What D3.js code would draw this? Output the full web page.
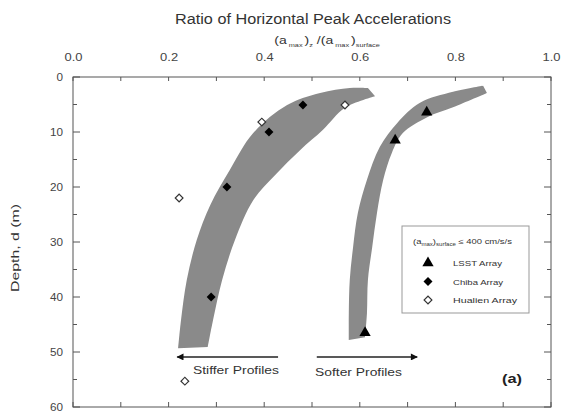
<!DOCTYPE html>
<html><head><meta charset="utf-8">
<script src="https://cdn.jsdelivr.net/npm/d3@7"></script>
<style>body{margin:0;background:#fff}text{font-family:"Liberation Sans",Arial,sans-serif}</style>
</head><body>
<script>
// ---- data ----
const xTickValues = [0, 0.2, 0.4, 0.6, 0.8, 1.0];
const xTickLabels = ["0.0", "0.2", "0.4", "0.6", "0.8", "1.0"];
const yTickValues = [0, 10, 20, 30, 40, 50, 60];
const lsst = [[0.740, 6.4], [0.674, 11.5], [0.611, 46.5]];
const chiba = [[0.481, 5.1], [0.410, 10.0], [0.322, 20.0], [0.289, 40.0]];
const hualien = [[0.569, 5.1], [0.395, 8.2], [0.222, 22.0], [0.234, 55.3]];
const stiffOuter = [[0.220,49.3],[0.226,44.2],[0.238,36.9],[0.259,29.6],[0.287,23.3],[0.328,16.9],[0.377,10.2],[0.448,5.1],[0.517,2.9],[0.579,2.0],[0.617,2.0]];
const stiffInner = [[0.632,3.5],[0.569,5.6],[0.523,9.6],[0.475,13.3],[0.423,17.8],[0.377,22.4],[0.339,29.6],[0.312,36.9],[0.293,44.2],[0.282,49.1]];
const softOuter = [[0.577,47.8],[0.577,42.9],[0.579,36.9],[0.586,30.9],[0.596,24.7],[0.615,18.7],[0.642,12.7],[0.678,8.4],[0.726,4.7],[0.795,2.7],[0.858,1.6]];
const softInner = [[0.866,2.9],[0.795,5.5],[0.741,7.3],[0.690,10.2],[0.667,13.8],[0.649,18.7],[0.636,24.7],[0.626,30.9],[0.617,36.9],[0.615,42.9],[0.611,47.3]];
const arrowStiff = [[0.429, 50.9], [0.218, 50.9]];
const arrowSoft = [[0.510, 50.9], [0.720, 50.9]];

const W = 562, H = 413;
const L = 73, R = 551, T = 77, B = 407;
const x = d3.scaleLinear().domain([0, 1]).range([L, R]);
const y = d3.scaleLinear().domain([0, 60]).range([T, B]);

const svg = d3.select("body").append("svg").attr("width", W).attr("height", H);

// bands
const lg = d3.line().x(d => x(d[0])).y(d => y(d[1])).curve(d3.curveCatmullRom.alpha(0.5));
function band(o, i) { return lg(o) + "L" + lg(i).slice(1) + "Z"; }
svg.append("path").attr("d", band(stiffOuter, stiffInner)).attr("fill", "#8a8a8a");
svg.append("path").attr("d", band(softOuter, softInner)).attr("fill", "#8a8a8a");

// frame
svg.append("rect").attr("x", L).attr("y", T).attr("width", R - L).attr("height", B - T)
  .attr("fill", "none").attr("stroke", "#555").attr("stroke-width", 1);

// axes
const minorX = d3.range(0, 1.001, 0.1);
const topAx = d3.axisTop(x).tickValues(xTickValues).tickFormat((d, i) => xTickLabels[i]).tickSize(0).tickPadding(16);
const gTop = svg.append("g").attr("transform", `translate(0,${T})`).call(topAx);
gTop.select(".domain").remove();
gTop.selectAll("text").attr("font-size", 10).attr("fill", "#444")
  .attr("textLength", 18).attr("lengthAdjust", "spacingAndGlyphs");
svg.append("g").selectAll("line").data(minorX).join("line")
  .attr("x1", d => x(d)).attr("x2", d => x(d)).attr("y1", T).attr("y2", T + 4).attr("stroke", "#555");
svg.append("g").selectAll("line").data(minorX).join("line")
  .attr("x1", d => x(d)).attr("x2", d => x(d)).attr("y1", B).attr("y2", B - 5).attr("stroke", "#555");

const leftAx = d3.axisLeft(y).tickValues(yTickValues).tickFormat(d3.format("d")).tickSize(0).tickPadding(10);
const gLeft = svg.append("g").attr("transform", `translate(${L},0)`).call(leftAx);
gLeft.select(".domain").remove();
gLeft.selectAll("text").attr("font-size", 10).attr("fill", "#444")
  .attr("textLength", d => d === 0 ? 6.5 : 13).attr("lengthAdjust", "spacingAndGlyphs");
const minorY = d3.range(0, 60.1, 5);
svg.append("g").selectAll("line").data(minorY).join("line")
  .attr("x1", L).attr("x2", d => L + (d % 10 === 0 ? 7 : 4)).attr("y1", d => y(d)).attr("y2", d => y(d)).attr("stroke", "#555");
svg.append("g").selectAll("line").data(minorY).join("line")
  .attr("x1", R).attr("x2", d => R - (d % 10 === 0 ? 7 : 4)).attr("y1", d => y(d)).attr("y2", d => y(d)).attr("stroke", "#555");

// titles
svg.append("text").attr("x", 313).attr("y", 24).attr("text-anchor", "middle")
  .attr("font-size", 14).attr("fill", "#333")
  .attr("textLength", 276).attr("lengthAdjust", "spacingAndGlyphs")
  .text("Ratio of Horizontal Peak Accelerations");
const subG = svg.append("g").attr("transform", "translate(327,44) scale(1.22,1)");
const sub = subG.append("text").attr("x", 0).attr("y", 0).attr("text-anchor", "middle")
  .attr("font-size", 11.5).attr("fill", "#333");
sub.append("tspan").text("(a");
sub.append("tspan").attr("font-size", 6).attr("dy", 3).text(" max ");
sub.append("tspan").attr("dy", -3).text(")");
sub.append("tspan").attr("font-size", 6).attr("dy", 3).text("z");
sub.append("tspan").attr("dy", -3).text(" /(a");
sub.append("tspan").attr("font-size", 6).attr("dy", 3).text(" max ");
sub.append("tspan").attr("dy", -3).text(")");
sub.append("tspan").attr("font-size", 6).attr("dy", 3).text("surface");

svg.append("text").attr("transform", `translate(19,248) rotate(-90)`).attr("text-anchor", "middle")
  .attr("font-size", 11.5).attr("fill", "#333")
  .attr("textLength", 88).attr("lengthAdjust", "spacingAndGlyphs").text("Depth, d (m)");

// markers
const tri = d3.symbol().type(d3.symbolTriangle).size(55);
const sq = d3.symbol().type(d3.symbolSquare).size(40);
const osq = d3.symbol().type(d3.symbolSquare).size(30);
svg.append("g").selectAll("path").data(lsst).join("path")
  .attr("transform", d => `translate(${x(d[0])},${y(d[1])})`).attr("d", tri).attr("fill", "#000");
svg.append("g").selectAll("path").data(chiba).join("path")
  .attr("transform", d => `translate(${x(d[0])},${y(d[1])}) rotate(45)`).attr("d", sq).attr("fill", "#000");
svg.append("g").selectAll("path").data(hualien).join("path")
  .attr("transform", d => `translate(${x(d[0])},${y(d[1])}) rotate(45)`).attr("d", osq)
  .attr("fill", "#fff").attr("stroke", "#333").attr("stroke-width", 1.2);

// arrows
const defs = svg.append("defs");
defs.append("marker").attr("id", "ah").attr("viewBox", "0 0 10 10").attr("refX", 9).attr("refY", 5)
  .attr("markerWidth", 9).attr("markerHeight", 7).attr("markerUnits", "userSpaceOnUse").attr("orient", "auto")
  .append("path").attr("d", "M0,0L10,5L0,10Z").attr("fill", "#111");
[arrowStiff, arrowSoft].forEach(a => {
  svg.append("line").attr("x1", x(a[0][0])).attr("y1", y(a[0][1])).attr("x2", x(a[1][0])).attr("y2", y(a[1][1]))
    .attr("stroke", "#222").attr("stroke-width", 1.6).attr("marker-end", "url(#ah)");
});
svg.append("text").attr("x", 193).attr("y", 374).attr("font-size", 11).attr("fill", "#333")
  .attr("textLength", 86).attr("lengthAdjust", "spacingAndGlyphs").text("Stiffer Profiles");
svg.append("text").attr("x", 315).attr("y", 376).attr("font-size", 11).attr("fill", "#333")
  .attr("textLength", 87).attr("lengthAdjust", "spacingAndGlyphs").text("Softer Profiles");
svg.append("text").attr("x", 502).attr("y", 383).attr("font-size", 12.5)
  .attr("font-weight", "bold").attr("fill", "#222")
  .attr("textLength", 20).attr("lengthAdjust", "spacingAndGlyphs").text("(a)");

// legend
const lgX = 402, lgY = 226;
svg.append("rect").attr("x", lgX).attr("y", lgY).attr("width", 127).attr("height", 87)
  .attr("fill", "#fff").attr("stroke", "#999").attr("stroke-width", 1);
const ltG = svg.append("g").attr("transform", `translate(${lgX + 11},${lgY + 18}) scale(1.35,1)`);
const lt = ltG.append("text").attr("x", 0).attr("y", 0).attr("font-size", 7).attr("fill", "#333");
lt.append("tspan").text("(a");
lt.append("tspan").attr("font-size", 4.5).attr("dy", 2).text("max");
lt.append("tspan").attr("dy", -2).text(")");
lt.append("tspan").attr("font-size", 4.5).attr("dy", 2).text("surface");
lt.append("tspan").attr("dy", -2).text(" ≤ 400 cm/s/s");
const items = [["LSST Array", "tri", 49], ["Chiba Array", "dia", 50], ["Hualien Array", "open", 64]];
items.forEach((it, i) => {
  const cy = lgY + 37 + i * 18.5, cx = lgX + 26;
  const g = svg.append("g").attr("transform", `translate(${cx},${cy})` + (it[1] === "tri" ? "" : " rotate(45)"));
  if (it[1] === "tri") g.append("path").attr("d", tri).attr("fill", "#000");
  else if (it[1] === "dia") g.append("path").attr("d", sq).attr("fill", "#000");
  else g.append("path").attr("d", osq).attr("fill", "#fff").attr("stroke", "#333").attr("stroke-width", 1.2);
  svg.append("text").attr("x", lgX + 51).attr("y", cy + 3).attr("font-size", 7.5).attr("fill", "#333")
    .attr("textLength", it[2]).attr("lengthAdjust", "spacingAndGlyphs").text(it[0]);
});
</script>
</body></html>
